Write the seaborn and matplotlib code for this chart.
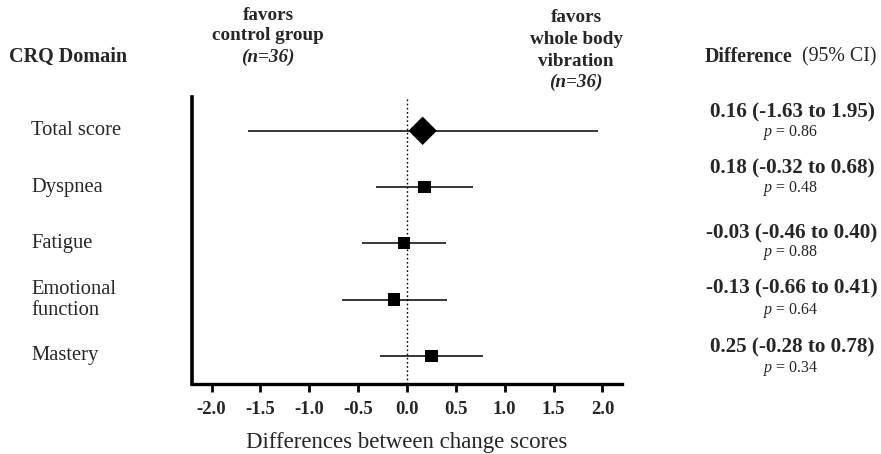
import matplotlib
matplotlib.use("Agg")
import matplotlib.pyplot as plt
import matplotlib.transforms as mtransforms
import seaborn as sns
import pandas as pd

# ---- data ----
domains = ["Total score", "Dyspnea", "Fatigue", "Emotional\nfunction", "Mastery"]
estimate = [0.16, 0.18, -0.03, -0.13, 0.25]
ci_low = [-1.63, -0.32, -0.46, -0.66, -0.28]
ci_high = [1.95, 0.68, 0.40, 0.41, 0.78]
p_values = ["0.86", "0.48", "0.88", "0.64", "0.34"]
kind = ["overall", "domain", "domain", "domain", "domain"]
x_ticks = [-2.0, -1.5, -1.0, -0.5, 0.0, 0.5, 1.0, 1.5, 2.0]

df = pd.DataFrame({"domain": domains, "est": estimate, "lo": ci_low,
                   "hi": ci_high, "p": p_values, "kind": kind,
                   "row": range(len(domains))})

sns.set_theme(style="white")
plt.rcParams["font.family"] = ["Liberation Serif", "DejaVu Serif"]
plt.rcParams["mathtext.fontset"] = "custom"
plt.rcParams["mathtext.rm"] = "Liberation Serif"
plt.rcParams["mathtext.it"] = "Liberation Serif:italic"
plt.rcParams["mathtext.bf"] = "Liberation Serif:bold"

W, H = 881, 454
fig = plt.figure(figsize=(W / 100, H / 100), dpi=100)
ax = fig.add_axes([192 / W, 1 - 384 / H, (622 - 192) / W, (384 - 97) / H])

# CI lines
ax.hlines(df["row"], df["lo"], df["hi"], color="black", lw=1.1, zorder=2)
# zero line
ax.axvline(0, color="black", lw=1.0, ls=(0, (1.2, 1.8)), zorder=1)
# points
sns.scatterplot(data=df, x="est", y="row", style="kind", size="kind",
                markers={"overall": "D", "domain": "s"},
                sizes={"overall": 210, "domain": 78},
                color="black", edgecolor="black", linewidth=0,
                legend=False, ax=ax, zorder=3)

ax.set_xlim(-2.2, 2.2)
ax.set_ylim(4.5, -0.6)
ax.set_xticks(x_ticks)
ax.set_xticklabels([f"{t:.1f}" for t in x_ticks], fontweight="bold", fontsize=13.5)
ax.set_yticks([])
ax.set_ylabel("")
ax.set_xlabel("Differences between change scores", fontsize=16.5, labelpad=10)
ax.tick_params(axis="x", direction="out", length=6, width=2, color="black", pad=6,
               bottom=True)
for s in ["top", "right"]:
    ax.spines[s].set_visible(False)
ax.spines["left"].set_linewidth(2.6)
ax.spines["bottom"].set_linewidth(2.4)
ax.spines["left"].set_color("black")
ax.spines["bottom"].set_color("black")

# row labels (figure x, data y)
trans = mtransforms.blended_transform_factory(fig.transFigure, ax.transData)
for r, name in zip(df["row"], df["domain"]):
    ax.text(31 / W, r, name, transform=trans, ha="left", va="center",
            fontsize=14.8, linespacing=1.15)

# right column
val_y = [112, 168, 233, 288, 347]
p_y = [133, 189, 253, 310, 369]
for i in range(len(domains)):
    fig.text(792 / W, 1 - val_y[i] / H,
             f"{estimate[i]:.2f} ({ci_low[i]:.2f} to {ci_high[i]:.2f})",
             ha="center", va="center", fontsize=15.2, fontweight="bold")
    fig.text(791 / W, 1 - p_y[i] / H, f"$p$ = {p_values[i]}",
             ha="center", va="center", fontsize=11.5)

# headers
HF = 13.8
fig.text(68 / W, 1 - 57 / H, "CRQ Domain", ha="center", va="center",
         fontsize=14.5, fontweight="bold")
fig.text(268 / W, 1 - 15 / H, "favors", ha="center", va="center", fontsize=HF, fontweight="bold")
fig.text(268 / W, 1 - 36 / H, "control group", ha="center", va="center", fontsize=HF, fontweight="bold")
fig.text(268 / W, 1 - 57 / H, "(n=36)", ha="center", va="center", fontsize=HF,
         fontweight="bold", fontstyle="italic")
fig.text(576 / W, 1 - 17 / H, "favors", ha="center", va="center", fontsize=HF, fontweight="bold")
fig.text(576 / W, 1 - 39 / H, "whole body", ha="center", va="center", fontsize=HF, fontweight="bold")
fig.text(576 / W, 1 - 61 / H, "vibration", ha="center", va="center", fontsize=HF, fontweight="bold")
fig.text(576 / W, 1 - 82 / H, "(n=36)", ha="center", va="center", fontsize=HF,
         fontweight="bold", fontstyle="italic")
fig.text(705 / W, 1 - 57 / H, "Difference", ha="left", va="center", fontsize=14.3,
         fontweight="bold")
fig.text(876 / W, 1 - 57 / H, "(95% CI)", ha="right", va="center", fontsize=14.3)

fig.savefig("out.png", dpi=100)
